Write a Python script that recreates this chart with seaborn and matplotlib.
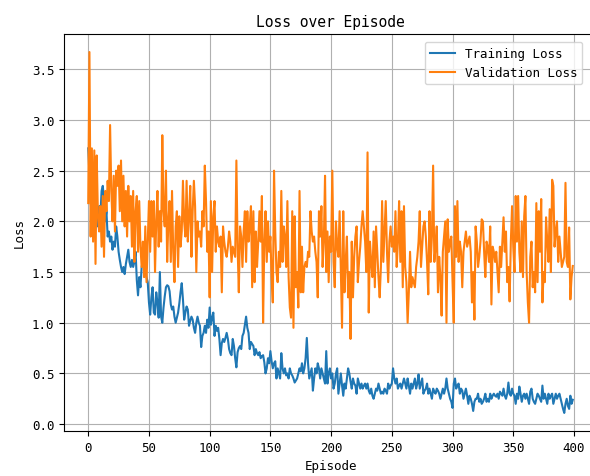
import matplotlib
matplotlib.use("Agg")
import matplotlib.pyplot as plt
import seaborn as sns
import pandas as pd
import numpy as np

title = "Loss over Episode"
x_label = "Episode"
y_label = "Loss"
series_names = ["Training Loss", "Validation Loss"]

training_loss = [
    2.72, 2.45, 2.20, 2.05, 2.25, 1.95, 2.10, 2.00, 1.95, 2.15,
    2.05, 2.30, 2.35, 2.20, 2.00, 2.10, 1.85, 1.90, 1.80, 1.85,
    1.72, 1.80, 1.75, 1.95, 1.85, 1.70, 1.62, 1.55, 1.50, 1.55,
    1.48, 1.58, 1.65, 1.72, 1.60, 1.55, 1.62, 1.55, 1.60, 1.70,
    1.42, 1.27, 1.45, 1.35, 1.55, 1.62, 1.70, 1.55, 1.45, 1.40,
    1.20, 1.08, 1.25, 1.35, 1.10, 1.08, 1.30, 1.20, 1.05, 1.50,
    1.06, 1.00, 1.15, 1.26, 1.35, 1.37, 1.36, 1.31, 1.18, 1.13,
    1.16, 1.06, 1.00, 1.05, 1.10, 1.19, 1.30, 1.39, 1.23, 1.03,
    1.10, 1.16, 1.13, 0.97, 1.02, 1.06, 1.03, 0.95, 0.90, 1.00,
    1.06, 1.00, 0.97, 0.76, 0.87, 0.90, 0.97, 0.90, 1.03, 0.95,
    1.15, 0.98, 1.05, 1.10, 0.87, 0.97, 0.92, 0.95, 0.84, 0.68,
    0.80, 0.84, 0.81, 0.85, 0.90, 0.84, 0.74, 0.70, 0.68, 0.84,
    0.77, 0.65, 0.56, 0.71, 0.75, 0.77, 0.74, 0.87, 0.90, 0.98,
    1.06, 0.95, 0.90, 0.74, 0.81, 0.79, 0.77, 0.68, 0.74, 0.70,
    0.68, 0.71, 0.65, 0.67, 0.68, 0.61, 0.50, 0.55, 0.65, 0.60,
    0.72, 0.62, 0.55, 0.60, 0.62, 0.45, 0.55, 0.50, 0.45, 0.70,
    0.55, 0.50, 0.55, 0.48, 0.50, 0.45, 0.55, 0.50, 0.48, 0.45,
    0.41, 0.43, 0.45, 0.50, 0.55, 0.52, 0.60, 0.50, 0.55, 0.65,
    0.85, 0.60, 0.45, 0.50, 0.55, 0.33, 0.45, 0.55, 0.50, 0.60,
    0.55, 0.45, 0.55, 0.50, 0.45, 0.40, 0.72, 0.40, 0.50, 0.55,
    0.45, 0.50, 0.35, 0.40, 0.50, 0.55, 0.30, 0.40, 0.50, 0.38,
    0.28, 0.40, 0.35, 0.45, 0.55, 0.50, 0.42, 0.35, 0.45, 0.40,
    0.38, 0.30, 0.45, 0.40, 0.35, 0.40, 0.35, 0.38, 0.40, 0.35,
    0.40, 0.33, 0.30, 0.35, 0.28, 0.25, 0.30, 0.35, 0.33, 0.40,
    0.35, 0.30, 0.32, 0.30, 0.35, 0.33, 0.30, 0.40, 0.35, 0.38,
    0.40, 0.55, 0.45, 0.40, 0.45, 0.35, 0.38, 0.40, 0.35, 0.40,
    0.45, 0.40, 0.35, 0.45, 0.38, 0.30, 0.40, 0.35, 0.40, 0.45,
    0.35, 0.40, 0.49, 0.35, 0.40, 0.45, 0.30, 0.33, 0.35, 0.40,
    0.30, 0.35, 0.30, 0.25, 0.35, 0.32, 0.30, 0.35, 0.33, 0.30,
    0.25, 0.30, 0.35, 0.30, 0.35, 0.45, 0.35, 0.30, 0.25, 0.22,
    0.16, 0.40, 0.45, 0.35, 0.38, 0.40, 0.30, 0.35, 0.33, 0.25,
    0.30, 0.35, 0.28, 0.20, 0.28, 0.25, 0.20, 0.13, 0.22, 0.25,
    0.25, 0.30, 0.22, 0.25, 0.20, 0.22, 0.25, 0.30, 0.22, 0.25,
    0.22, 0.30, 0.25, 0.28, 0.30, 0.28, 0.27, 0.30, 0.25, 0.32,
    0.30, 0.28, 0.35, 0.28, 0.25, 0.30, 0.41, 0.30, 0.28, 0.35,
    0.30, 0.28, 0.20, 0.30, 0.25, 0.37, 0.30, 0.22, 0.28, 0.30,
    0.25, 0.30, 0.25, 0.20, 0.32, 0.35, 0.25, 0.22, 0.20, 0.25,
    0.30, 0.28, 0.25, 0.22, 0.38, 0.25, 0.30, 0.25, 0.20, 0.30,
    0.25, 0.28, 0.30, 0.20, 0.25, 0.30, 0.25, 0.28, 0.30, 0.25,
    0.20, 0.15, 0.11, 0.20, 0.25, 0.18, 0.15, 0.28, 0.20, 0.24,
]

validation_loss = [
    2.18, 3.67, 1.85, 2.72, 1.80, 2.70, 1.58, 2.65, 2.05, 1.90,
    2.15, 1.75, 2.25, 1.65, 2.30, 2.10, 2.40, 2.20, 2.95, 2.30,
    2.00, 2.45, 1.90, 2.50, 2.35, 2.55, 2.10, 2.60, 2.00, 2.45,
    1.95, 2.30, 1.85, 2.35, 2.00, 2.25, 1.75, 2.30, 1.60, 2.10,
    2.25, 1.70, 2.20, 1.75, 1.55, 1.80, 1.45, 1.95, 1.40, 1.80,
    2.20, 1.70, 2.20, 1.85, 2.20, 1.50, 2.00, 2.30, 1.75, 2.10,
    1.80, 2.85, 2.10, 1.95, 2.50, 1.60, 2.00, 2.20, 1.60, 2.30,
    1.70, 1.40, 1.95, 2.10, 1.55, 2.05, 1.75, 1.90, 2.40, 2.00,
    1.85, 2.40, 1.80, 2.05, 2.35, 1.65, 2.10, 2.40, 2.15, 1.50,
    2.00, 1.85, 1.90, 1.75, 2.10, 1.95, 2.55, 2.20, 1.70, 1.90,
    1.25, 2.20, 1.50, 2.05, 2.20, 1.70, 1.95, 1.80, 1.75, 1.85,
    1.30, 1.95, 1.80, 1.70, 1.65, 1.75, 1.90, 1.80, 1.60, 1.75,
    1.70, 1.65, 2.60, 1.75, 1.30, 1.95, 1.85, 1.55, 1.90, 2.10,
    1.60, 2.10, 1.80, 1.95, 2.15, 1.35, 2.10, 1.40, 1.90, 1.55,
    1.80, 2.10, 1.80, 2.25, 1.00, 1.80, 2.10, 1.60, 2.00, 1.70,
    1.85, 1.45, 1.20, 2.50, 1.90, 1.50, 1.40, 1.70, 1.55, 2.30,
    1.60, 1.95, 1.85, 1.55, 2.20, 1.45, 1.15, 1.05, 2.10, 0.95,
    2.05, 1.35, 1.50, 1.15, 2.30, 1.30, 1.75, 1.30, 1.55, 1.60,
    1.55, 1.70, 1.65, 2.10, 1.90, 1.80, 1.85, 1.70, 1.60, 1.25,
    2.10, 1.85, 2.15, 1.55, 1.80, 2.45, 1.50, 1.90, 1.40, 1.85,
    1.70, 2.50, 1.60, 1.35, 2.00, 1.75, 1.65, 2.10, 1.50, 0.95,
    2.10, 1.30, 1.60, 1.85, 1.25, 1.50, 0.84, 1.80, 1.25, 1.65,
    1.85, 1.95, 1.40, 1.60, 1.75, 1.95, 2.10, 1.95, 1.80, 1.50,
    2.68, 1.10, 1.80, 1.60, 1.45, 1.90, 1.35, 1.95, 1.70, 1.45,
    1.25, 1.55, 2.20, 1.60, 1.90, 2.20, 1.70, 1.40, 1.80, 1.95,
    1.75, 1.85, 1.70, 2.10, 1.55, 1.80, 2.20, 1.60, 2.10, 1.35,
    2.15, 1.55, 1.40, 1.00, 1.30, 1.70, 1.35, 1.45, 1.40, 1.35,
    1.55, 1.65, 1.80, 2.10, 1.55, 1.75, 1.95, 2.00, 1.85, 1.60,
    1.28, 2.10, 1.60, 1.85, 2.55, 1.60, 1.75, 1.95, 1.30, 1.65,
    1.45, 1.07, 1.70, 1.85, 2.00, 1.00, 2.02, 1.70, 1.80, 1.85,
    1.40, 1.00, 2.15, 1.65, 2.20, 1.60, 1.80, 1.70, 1.35, 1.70,
    1.80, 1.90, 1.75, 1.80, 1.85, 1.70, 1.20, 1.50, 1.03, 1.95,
    1.80, 1.55, 1.65, 1.80, 2.02, 2.00, 1.70, 1.45, 1.80, 1.75,
    1.60, 1.95, 1.18, 1.75, 1.70, 1.60, 1.70, 1.50, 1.30, 1.75,
    1.55, 1.80, 2.04, 1.70, 1.90, 1.40, 1.55, 1.21, 1.80, 2.15,
    1.75, 1.50, 2.25, 1.80, 2.25, 1.70, 1.50, 2.00, 1.45, 2.05,
    2.25, 1.50, 1.20, 1.00, 1.65, 1.80, 1.35, 1.50, 1.30, 2.18,
    1.40, 2.10, 1.70, 2.22, 1.20, 1.50, 1.40, 2.04, 1.80, 1.60,
    2.12, 1.50, 2.41, 2.35, 1.75, 1.90, 2.00, 1.60, 1.85, 1.70,
    1.55, 1.60, 1.65, 2.38, 1.60, 1.55, 1.94, 1.23, 1.45, 1.56,
]

episodes = list(range(len(training_loss)))

plt.rcParams['font.family'] = ['DejaVu Sans Mono', 'DejaVu Sans']

df = pd.DataFrame({
    "Episode": episodes * 2,
    "Loss": training_loss + validation_loss,
    "Series": [series_names[0]] * len(training_loss) + [series_names[1]] * len(validation_loss),
})

fig = plt.figure(figsize=(5.9, 4.77), dpi=100)
ax = fig.add_axes([64 / 590, 45 / 477, 533 / 590, 397 / 477])

sns.lineplot(data=df, x="Episode", y="Loss", hue="Series",
             palette=["#1f77b4", "#ff7f0e"], linewidth=1.5, ax=ax,
             estimator=None, sort=False)

ax.set_title(title, fontsize=10.5)
ax.set_xlabel(x_label, fontsize=9)
ax.set_ylabel(y_label, fontsize=9)
ax.tick_params(labelsize=9)
ax.grid(True, color="#b0b0b0", linewidth=0.8)
ax.set_axisbelow(True)
ax.set_xticks([0, 50, 100, 150, 200, 250, 300, 350, 400])

leg = ax.legend(loc="upper right", bbox_to_anchor=(0.972, 0.98), borderaxespad=0,
                fontsize=9, title=None)

fig.savefig("out.png", dpi=100)
